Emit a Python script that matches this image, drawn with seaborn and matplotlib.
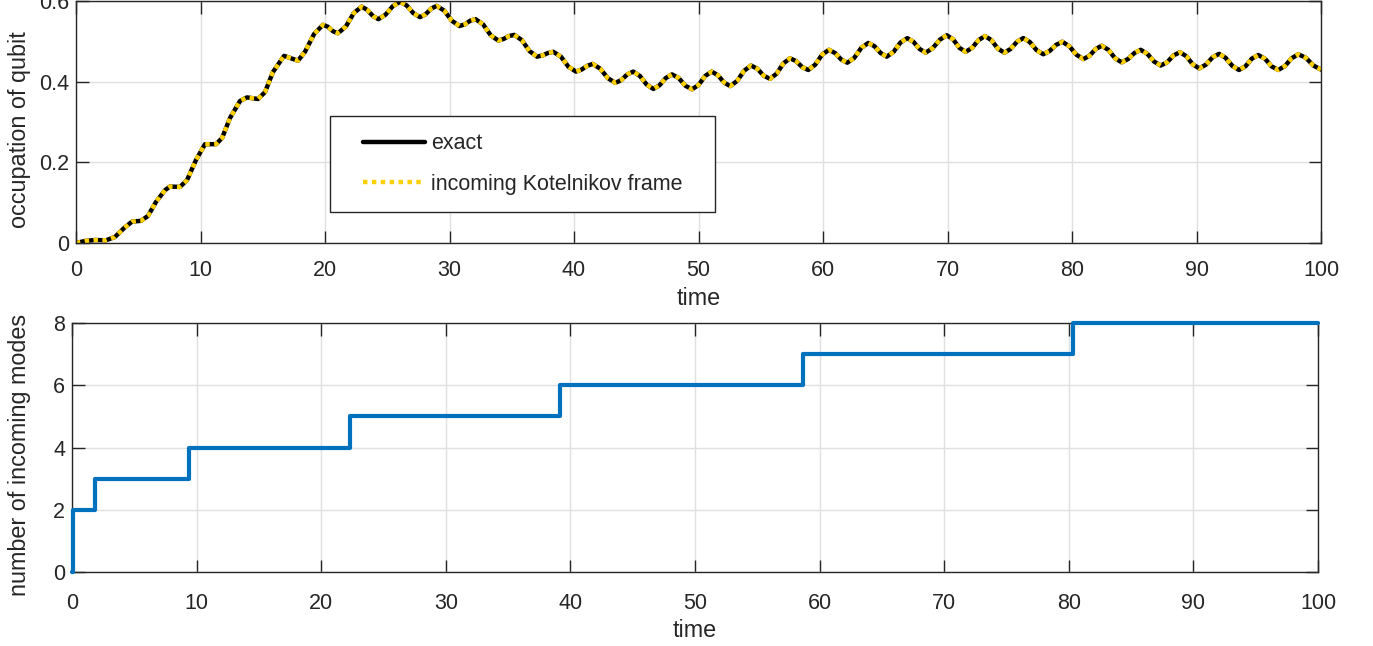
import numpy as np
import pandas as pd
import matplotlib
matplotlib.use("Agg")
import matplotlib.pyplot as plt
import seaborn as sns
from matplotlib.legend_handler import HandlerLine2D
from matplotlib.lines import Line2D

# ---------------- data ----------------
time_occ = [
    0, 0.72, 1.53, 2.41, 3.13, 3.86, 4.50, 5.22, 5.78, 6.43,
    7.15, 7.55, 8.35, 8.92, 9.64, 10.36, 11.24, 11.73, 12.37, 13.17,
    13.73, 14.62, 15.18, 15.82, 16.71, 17.83, 18.39, 19.12, 19.84,
    20.24, 20.64, 21.04,  21.68, 22.31, 22.95,  23.39, 23.84, 24.28,
    24.86, 25.44, 26.02,  26.56, 27.09, 27.63,  28.08, 28.52, 28.97,
    29.58, 30.19, 30.80,  31.23, 31.66, 32.09,  32.70, 33.31, 33.92,
    34.35, 34.77, 35.20,  35.81, 36.42, 37.03,  37.47, 37.90, 38.34,
    38.95, 39.55, 40.16,  40.61, 41.05, 41.50,  42.11, 42.71, 43.32,
    43.80, 44.28, 44.76,  45.30, 45.83, 46.37,  46.87, 47.37, 47.87,
    48.41, 48.94, 49.48,  50.01, 50.53, 51.06,  51.56, 52.05, 52.55,
    53.11, 53.66, 54.22,  54.73, 55.23, 55.74,  56.28, 56.81, 57.35,
    57.84, 58.33, 58.82,  59.37, 59.93, 60.48,  60.97, 61.46, 61.95,
    62.51, 63.08, 63.64,  64.13, 64.63, 65.12,  65.67, 66.22, 66.77,
    67.26, 67.76, 68.25,  68.81, 69.38, 69.94,  70.45, 70.95, 71.46,
    71.98, 72.49, 73.01,  73.53, 74.04, 74.56,  75.07, 75.58, 76.09,
    76.62, 77.16, 77.69,  78.20, 78.71, 79.22,  79.78, 80.35, 80.91,
    81.40, 81.90, 82.39,  82.92, 83.46, 83.99,  84.50, 85.01, 85.52,
    86.05, 86.59, 87.12,  87.64, 88.15, 88.67,  89.19, 89.70, 90.22,
    90.75, 91.28, 91.81,  92.34, 92.88, 93.41,  93.93, 94.44, 94.96,
    95.50, 96.03, 96.57,  97.11, 97.64, 98.18,  98.79, 99.39, 100.0,
]
occ_exact = [
    0, 0.005, 0.0074, 0.0067, 0.015, 0.037, 0.053, 0.055, 0.067, 0.102,
    0.131, 0.140, 0.139, 0.156, 0.206, 0.245, 0.245, 0.260, 0.310, 0.352,
    0.361, 0.357, 0.374, 0.424, 0.464, 0.452, 0.474, 0.518, 0.541,
    0.536, 0.525, 0.520,  0.537, 0.570, 0.586,  0.578, 0.563, 0.555,
    0.566, 0.587, 0.598,  0.589, 0.570, 0.560,  0.567, 0.581, 0.588,
    0.576, 0.551, 0.538,  0.542, 0.551, 0.555,  0.542, 0.515, 0.502,
    0.506, 0.513, 0.516,  0.503, 0.476, 0.462,  0.465, 0.471, 0.474,
    0.462, 0.437, 0.425,  0.430, 0.439, 0.444,  0.432, 0.409, 0.397,
    0.404, 0.418, 0.425,  0.414, 0.393, 0.382,  0.391, 0.409, 0.418,
    0.409, 0.390, 0.381,  0.392, 0.414, 0.425,  0.416, 0.398, 0.389,
    0.402, 0.427, 0.440,  0.432, 0.415, 0.407,  0.420, 0.445, 0.458,
    0.451, 0.436, 0.429,  0.442, 0.467, 0.479,  0.471, 0.455, 0.447,
    0.459, 0.484, 0.496,  0.488, 0.471, 0.462,  0.474, 0.497, 0.508,
    0.499, 0.481, 0.472,  0.483, 0.504, 0.515,  0.505, 0.484, 0.474,
    0.484, 0.503, 0.513,  0.503, 0.482, 0.472,  0.481, 0.499, 0.508,
    0.498, 0.478, 0.468,  0.476, 0.491, 0.499,  0.488, 0.467, 0.456,
    0.464, 0.481, 0.489,  0.479, 0.458, 0.448,  0.456, 0.471, 0.479,
    0.469, 0.450, 0.440,  0.448, 0.465, 0.473,  0.463, 0.443, 0.433,
    0.442, 0.460, 0.469,  0.459, 0.439, 0.429,  0.438, 0.457, 0.466,
    0.457, 0.438, 0.429,  0.439, 0.458, 0.468,  0.459, 0.440, 0.430,
]
occ_kotelnikov = list(occ_exact)  # the two curves coincide in the picture

step_times = [0, 0.1, 1.85, 9.35, 22.35, 39.2, 58.7, 80.3, 100]
incoming_modes = [0, 2, 3, 4, 5, 6, 7, 8, 8]

x_ticks = [0, 10, 20, 30, 40, 50, 60, 70, 80, 90, 100]
occ_ticks = [0, 0.2, 0.4, 0.6]
occ_tick_labels = ["0", "0.2", "0.4", "0.6"]
mode_ticks = [0, 2, 4, 6, 8]

series_labels = ["exact", "incoming Kotelnikov frame"]

# ---------------- styling ----------------
sns.set_theme(style="white")
plt.rcParams['font.family'] = ['Liberation Sans', 'DejaVu Sans']
FS = 15.5
FSL = 16.8
TXT = '#262626'
GRID = '#e0e0e0'
YELLOW = '#FFD100'
BLUE = '#0072BD'
LW = 3.2

W, H = 1373, 646
fig = plt.figure(figsize=(W / 100, H / 100), dpi=100)
ax1 = fig.add_axes([76 / W, 1 - 243 / H, 1245 / W, 242 / H])
ax2 = fig.add_axes([72 / W, 1 - 572 / H, 1246 / W, 249 / H])

df_occ = pd.DataFrame({"time": time_occ, "exact": occ_exact,
                       "kotelnikov": occ_kotelnikov})
df_modes = pd.DataFrame({"time": step_times, "modes": incoming_modes})

sns.lineplot(data=df_occ, x="time", y="exact", ax=ax1, color="black",
             linewidth=LW, sort=False, estimator=None, legend=False)
sns.lineplot(data=df_occ, x="time", y="kotelnikov", ax=ax1, color=YELLOW,
             linewidth=LW, sort=False, estimator=None, legend=False)
ax1.lines[-1].set_linestyle((0, (1.0, 1.0)))

sns.lineplot(data=df_modes, x="time", y="modes", ax=ax2, color=BLUE,
             linewidth=3.0, drawstyle="steps-post", sort=False,
             estimator=None, legend=False, clip_on=False, zorder=5)


def style_axes(ax, xpad):
    ax.set_xlim(0, 100)
    ax.set_xticks(x_ticks)
    ax.grid(True, color=GRID, linewidth=1.0)
    ax.set_axisbelow(True)
    for s in ax.spines.values():
        s.set_visible(True)
        s.set_color(TXT)
        s.set_linewidth(1.0)
    ax.tick_params(axis='both', direction='in', length=9, width=1,
                   colors=TXT, labelcolor=TXT, labelsize=FS,
                   bottom=True, top=True, left=True, right=True)
    ax.tick_params(axis='x', pad=xpad)
    ax.tick_params(axis='y', pad=5)


style_axes(ax1, 12)
ax1.set_ylim(0, 0.6)
ax1.set_yticks(occ_ticks)
ax1.set_yticklabels(occ_tick_labels)
ax1.set_xlabel("time", fontsize=FSL, color=TXT)
ax1.set_ylabel("occupation of qubit", fontsize=FSL, color=TXT, va="center")
ax1.xaxis.set_label_coords(0.5, -0.183)
ax1.yaxis.set_label_coords(-0.0455, 0.47)

style_axes(ax2, 15)
ax2.set_ylim(0, 8)
ax2.set_yticks(mode_ticks)
ax2.set_xlabel("time", fontsize=FSL, color=TXT)
ax2.set_ylabel("number of incoming modes", fontsize=FSL, color=TXT, va="center")
ax2.xaxis.set_label_coords(0.5, -0.19)
ax2.yaxis.set_label_coords(-0.0418, 0.47)


class PaddedLine(HandlerLine2D):
    """Draw the legend sample only on the right part of the handle box."""
    def __init__(self, frac, **kw):
        super().__init__(**kw)
        self.frac = frac

    def get_xdata(self, legend, xdescent, ydescent, width, height, fontsize):
        x1 = -xdescent + width
        x0 = x1 - width * self.frac
        return [x0, x1], [0.5 * (x0 + x1)]


h_exact = Line2D([], [], color="black", linewidth=LW)
h_kot = Line2D([], [], color=YELLOW, linewidth=LW, linestyle=(0, (1.0, 1.0)))
leg = ax1.legend([h_exact, h_kot], series_labels,
                 loc="upper left", bbox_to_anchor=(0.204, 0.145, 0.3092, 0.3798),
                 mode="expand", borderaxespad=0, fontsize=FS,
                 handlelength=3.6, handletextpad=0.3, borderpad=0.8,
                 labelspacing=0.9, frameon=True, fancybox=False,
                 framealpha=1, edgecolor=TXT,
                 handler_map={Line2D: PaddedLine(0.8)})
leg.get_frame().set_linewidth(1.0)
for t in leg.get_texts():
    t.set_color(TXT)

fig.savefig("out.png", dpi=100)
